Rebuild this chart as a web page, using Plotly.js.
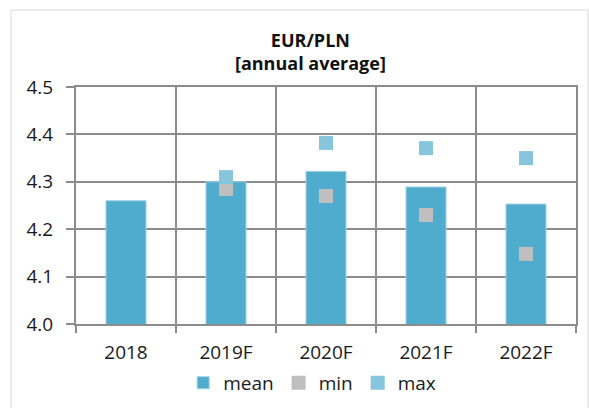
<!DOCTYPE html>
<html>
<head>
<meta charset="utf-8">
<script src="https://cdn.plot.ly/plotly-3.0.1.min.js"></script>
<style>
html,body{margin:0;padding:0;background:#fff;}
#chart{width:589px;height:408px;}
</style>
</head>
<body>
<div id="chart"></div>
<script>
const categories = ["2018", "2019F", "2020F", "2021F", "2022F"];
const meanValues = [4.26, 4.30, 4.322, 4.289, 4.253];
const minValues = [null, 4.285, 4.27, 4.23, 4.148];
const maxValues = [null, 4.31, 4.382, 4.371, 4.35];
const yTicks = [4.0, 4.1, 4.2, 4.3, 4.4, 4.5];

const FONT = "Open Sans, sans-serif";

const traces = [
  {
    type: "bar", name: "mean", x: categories, y: meanValues,
    width: 0.4,
    marker: {color: "#4FACCC", line: {color: "#9FD0E3", width: 1}},
    hoverinfo: "x+y"
  },
  {
    type: "scatter", mode: "markers", name: "min", x: categories, y: minValues,
    marker: {symbol: "square", size: 14, color: "#BFBFBF"}
  },
  {
    type: "scatter", mode: "markers", name: "max", x: categories, y: maxValues,
    marker: {symbol: "square", size: 14, color: "#86C5DB"}
  }
];

const layout = {
  width: 589, height: 408,
  margin: {l: 76, r: 13, t: 87, b: 84},
  paper_bgcolor: "#ffffff", plot_bgcolor: "#ffffff",
  font: {family: FONT, size: 19, color: "#1a1a1a"},
  title: {
    text: "<b>EUR/PLN</b><br><b>[annual average]</b>",
    font: {family: FONT, size: 18, color: "#111"},
    x: 0.527, xref: "container", xanchor: "center",
    y: 0.885, yref: "container", yanchor: "top"
  },
  showlegend: true,
  legend: {
    orientation: "h", x: 0.53, xanchor: "center", xref: "container",
    y: 0.015, yref: "container", yanchor: "bottom",
    font: {family: FONT, size: 19, color: "#1a1a1a"},
    itemwidth: 30, traceorder: "normal"
  },
  xaxis: {
    type: "category",
    tickson: "boundaries",
    ticks: "outside", ticklen: 7, tickcolor: "#8c8c8c", tickwidth: 2,
    showgrid: true, gridcolor: "#8c8c8c", gridwidth: 2,
    showline: true, linecolor: "#8c8c8c", linewidth: 2, mirror: true,
    tickfont: {family: FONT, size: 19, color: "#1a1a1a"},
    ticklabelstandoff: 10,
    zeroline: false, fixedrange: true
  },
  yaxis: {
    range: [4.0, 4.5],
    tickvals: yTicks,
    tickformat: ".1f",
    ticks: "outside", ticklen: 8, tickcolor: "#8c8c8c", tickwidth: 2,
    showgrid: true, gridcolor: "#8c8c8c", gridwidth: 2,
    showline: true, linecolor: "#8c8c8c", linewidth: 2, mirror: true,
    tickfont: {family: FONT, size: 19, color: "#1a1a1a"},
    ticklabelstandoff: 9,
    zeroline: false, fixedrange: true
  },
  shapes: [
    {type: "rect", xref: "paper", yref: "paper",
     x0: -0.13, x1: 1.024, y0: -0.5, y1: 1.325,
     line: {color: "#d9d9d9", width: 1}, fillcolor: "rgba(0,0,0,0)", layer: "below"}
  ]
};

Plotly.newPlot("chart", traces, layout, {displayModeBar: false, staticPlot: true});
</script>
</body>
</html>
